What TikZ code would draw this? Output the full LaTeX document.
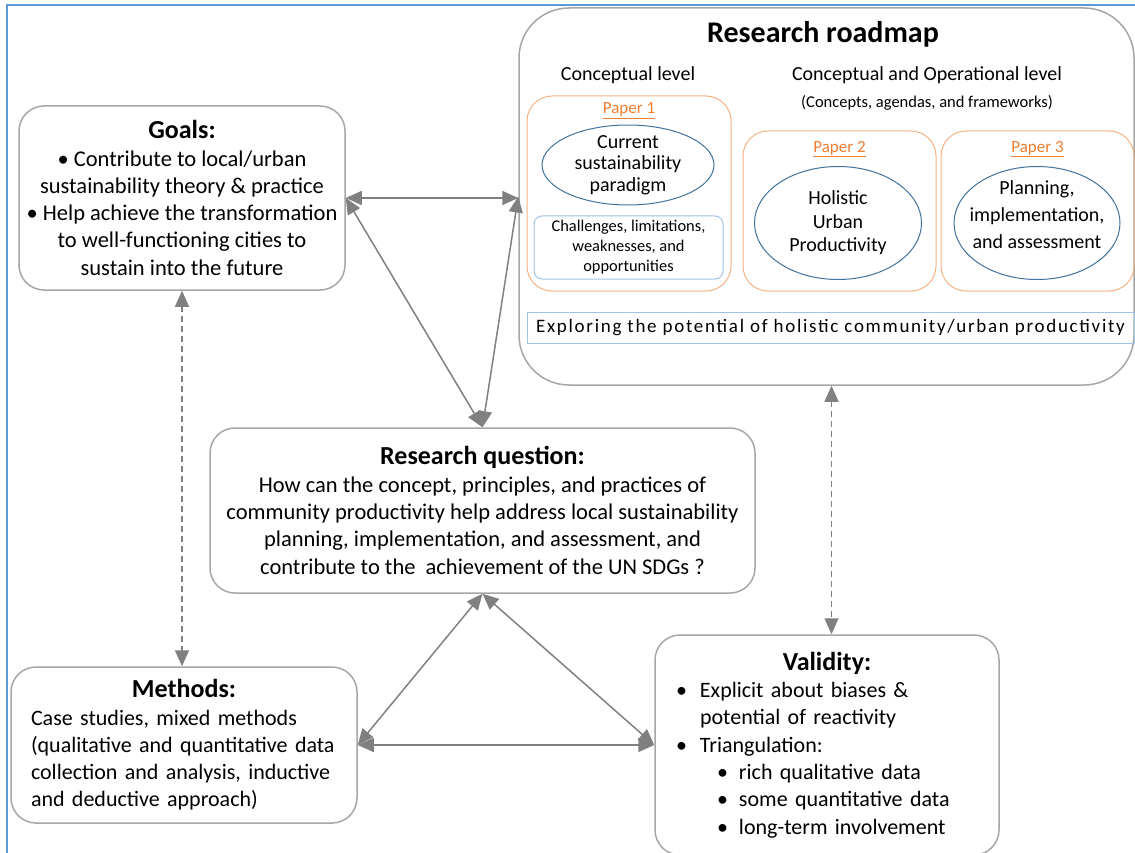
\documentclass[tikz,border=0pt]{standalone}
\usepackage{fontspec}
\setmainfont{Carlito}
\usepackage{tikz}
\usetikzlibrary{positioning,shapes.geometric,arrows.meta}

\definecolor{boxgray}{RGB}{166,166,166}
\definecolor{arrowgray}{RGB}{128,128,128}
\definecolor{frameblue}{RGB}{91,155,213}
\definecolor{paperorange}{RGB}{244,177,131}
\definecolor{labelorange}{RGB}{237,125,49}
\definecolor{ovalblue}{RGB}{65,113,156}
\definecolor{lightblue}{RGB}{157,195,230}

\newcommand{\boxtitle}[1]{{\fontsize{26}{27}\selectfont\bfseries #1}}

\begin{document}
\begin{tikzpicture}[x=1pt,y=-1pt,
    % define styles
    box/.style={
        draw=boxgray,
        line width=1.5pt,
        rounded corners=25pt,
        align=center,
        font=\fontsize{22.5}{27.3}\selectfont
    },
    paper/.style={
        draw=paperorange,
        line width=1pt,
        rounded corners=25pt
    },
    papername/.style={
        text=labelorange,
        font=\fontsize{17}{20}\selectfont
    },
    oval/.style={
        draw=ovalblue,
        line width=1pt,
        ellipse,
        inner sep=0pt
    },
    ovaltext/.style={
        align=center,
        font=\fontsize{20}{23.5}\selectfont
    },
    link/.style={
        {Triangle[length=16pt,width=14pt]}-{Triangle[length=16pt,width=14pt]},
        draw=arrowgray,
        line width=1.5pt
    },
    dashlink/.style={
        link,
        dash pattern=on 6pt off 4pt
    }
]
\useasboundingbox (0,0) rectangle (1135,853);
% frame lines
\draw[frameblue, line width=2pt] (7,853) -- (7,5) -- (1135,5);

% Goals
\node[box, minimum width=326pt, minimum height=184pt] (goals) at (182,198)
    {\boxtitle{Goals:}\\ \textbullet{} Contribute to local/urban\\ sustainability theory \& practice\\
     \textbullet{} Help achieve the transformation\\ to well-functioning cities to\\ sustain into the future};

% Research roadmap
\node[box, rounded corners=50pt, minimum width=615pt, minimum height=377pt] (roadmap) at (826.5,196.5) {};
\node[font=\fontsize{30}{34}\selectfont\bfseries] (roadtitle) at (823,34) {Research roadmap};
\node[font=\fontsize{20}{24}\selectfont] (conlevel) at (628,75) {Conceptual level};
\node[font=\fontsize{20}{24}\selectfont] (oplevel) at (927,75) {Conceptual and Operational level};
\node[font=\fontsize{16.5}{19}\selectfont] (opnote) at (927,103) {(Concepts, agendas, and frameworks)};

% Paper 1
\node[paper, minimum width=204pt, minimum height=195pt] (paper1) at (629,193.5) {};
\node[papername, below=4pt of paper1.north] (p1name) {\underline{Paper 1}};
\node[oval, minimum width=172pt, minimum height=80pt] (paradigm) at (628,165) {};
\node[ovaltext, font=\fontsize{20}{21.5}\selectfont] (paradigmtext) at (paradigm) {Current\\ sustainability\\ paradigm};
\node[draw=lightblue, line width=1pt, rounded corners=8pt, minimum width=189pt, minimum height=63pt,
      align=center, font=\fontsize{16.4}{20}\selectfont] (challenges) at (628.5,247.5)
    {Challenges, limitations,\\ weaknesses, and\\ opportunities};

% Paper 2
\node[paper, minimum width=193pt, minimum height=160pt] (paper2) at (839.5,211) {};
\node[papername, below=7pt of paper2.north] (p2name) {\underline{Paper 2}};
\node[oval, minimum width=167pt, minimum height=113pt] (holistic) at (838,223) {};
\node[ovaltext] (holistictext) at (holistic) {Holistic\\ Urban\\ Productivity};

% Paper 3
\node[paper, minimum width=193pt, minimum height=160pt] (paper3) at (1037.5,211) {};
\node[papername, below=7pt of paper3.north] (p3name) {\underline{Paper 3}};
\node[oval, minimum width=166pt, minimum height=113pt] (planning) at (1037,223) {};
\node[ovaltext, font=\fontsize{20}{27}\selectfont, yshift=8pt] (planningtext) at (planning)
    {Planning,\\ implementation,\\ and assessment};

\node[draw=lightblue, line width=1pt, minimum width=607pt, minimum height=31pt,
      font=\fontsize{19}{22}\selectfont\addfontfeatures{LetterSpace=9}] (explore) at (830.5,327.5)
    {Exploring the potential of holistic community/urban productivity};

% Research question
\node[box, minimum width=545pt, minimum height=165pt] (rq) at (482.5,510.5)
    {\boxtitle{Research question:}\\ How can the concept, principles, and practices of\\
     community productivity help address local sustainability\\
     planning, implementation, and assessment, and\\ contribute to the\ \ achievement of the UN SDGs ?};

% Methods
\node[box, align=left, text width=306pt, minimum width=346pt, minimum height=156pt,
      font=\fontsize{22}{27.3}\selectfont] (methods) at (184,745)
    {\makebox[\hsize]{\boxtitle{Methods:}}\\ Case studies, mixed methods\\ (qualitative and quantitative data\\
     collection and analysis, inductive\\ and deductive approach)};

% Validity
\node[box, align=left, text width=302pt, minimum width=344pt, minimum height=220pt,
      font=\fontsize{22}{27.3}\selectfont] (validity) at (827,745)
    {\makebox[\hsize]{\boxtitle{Validity:}}\\ \makebox[24pt][l]{\textbullet}Explicit about biases \&\\
     \hspace*{24pt}potential of reactivity\\
     \makebox[24pt][l]{\textbullet}Triangulation:\\
     \hspace*{41pt}\makebox[22pt][l]{\textbullet}rich qualitative data\\
     \hspace*{41pt}\makebox[22pt][l]{\textbullet}some quantitative data\\
     \hspace*{41pt}\makebox[22pt][l]{\textbullet}long-term involvement};

% Arrows between the boxes
\draw[link] (goals.east) -- (goals.east -| roadmap.west);
\draw[link] (goals.east) -- (rq.north);
\draw[link] (roadmap.west) -- (rq.north);
\draw[dashlink] (goals.south) -- (goals.south |- methods.north);
\draw[dashlink] ([xshift=5pt]roadmap.south) -- ([xshift=5pt]roadmap.south |- validity.north);
\draw[link] (rq.south) -- (methods.east);
\draw[link] (rq.south) -- (validity.west);
\draw[link] (methods.east) -- (methods.east -| validity.west);
\end{tikzpicture}
\end{document}
